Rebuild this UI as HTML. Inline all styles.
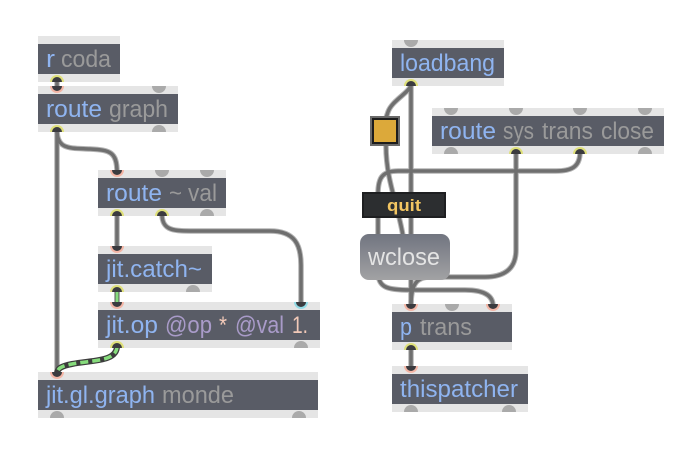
<!DOCTYPE html>
<html>
<head>
<meta charset="utf-8">
<style>
html,body{margin:0;padding:0;background:#fff;width:694px;height:458px;overflow:hidden}
svg{display:block}
text{font-family:"Liberation Sans",sans-serif;font-size:24px}
.b{fill:#8fb4f0}.g{fill:#9a9a9a}.p{fill:#a99bc9}.o{fill:#f2c9b8}
.s{fill:#e5e5e5}.d{fill:#595c66}
.w1{fill:none;stroke:#b4b4b4;stroke-width:5.5}
.w2{fill:none;stroke:#6f6f6f;stroke-width:3.5}
.pg{fill:#aaa}
.ir{fill:#f3b5a5}.or{fill:#dfe07a}.cr{fill:#93dbe6}.c{fill:#3b3b3f}
</style>
</head>
<body>
<svg width="694" height="458" viewBox="0 0 694 458" xmlns="http://www.w3.org/2000/svg">
<defs>
<linearGradient id="wg" x1="0" y1="0" x2="0" y2="1"><stop offset="0" stop-color="#717580"/><stop offset="1" stop-color="#a2a2a4"/></linearGradient>
<path id="a" d="M57 80V88"/>
<path id="b" d="M57 130V372"/>
<path id="c" d="M57 130C57 150 70 148 90 149C110 150 117 152 117 172"/>
<path id="e" d="M117 214V248"/>
<path id="f" d="M162 214C162 232 175 231 200 231L270 231C295 231 301 245 301 265L301 304"/>
<path id="h" d="M411 84C411 92 392 100 388 112L386 118"/>
<path id="i" d="M411 84V306"/>
<path id="j" d="M386 146C386 180 398 205 403 236"/>
<path id="k" d="M580 152C580 168 570 171 556 171L398 171C382 171 378 178 378 194"/>
<path id="l" d="M378 216L378 272C378 288 388 290 410 290L465 290C485 290 493 296 493 306"/>
<path id="m" d="M516 152L516 250C516 270 503 277 485 277L430 277C416 277 411 285 411 306"/>
<path id="n" d="M411 348V368"/>
</defs>

<!-- boxes -->
<rect class="s" x="38" y="36" width="82" height="46"/><rect class="d" x="38" y="44" width="82" height="30"/>
<rect class="s" x="38" y="86" width="140" height="46"/><rect class="d" x="38" y="94" width="140" height="30"/>
<rect class="s" x="98" y="170" width="128" height="46"/><rect class="d" x="98" y="178" width="128" height="30"/>
<rect class="s" x="98" y="246" width="114" height="46"/><rect class="d" x="98" y="254" width="114" height="30"/>
<rect class="s" x="98" y="302" width="222" height="46"/><rect class="d" x="98" y="310" width="222" height="30"/>
<rect class="s" x="38" y="372" width="280" height="46"/><rect class="d" x="38" y="380" width="280" height="30"/>
<rect class="s" x="392" y="40" width="112" height="46"/><rect class="d" x="392" y="48" width="112" height="30"/>
<rect class="s" x="432" y="108" width="232" height="46"/><rect class="d" x="432" y="116" width="232" height="30"/>
<rect class="s" x="392" y="304" width="120" height="46"/><rect class="d" x="392" y="312" width="120" height="30"/>
<rect class="s" x="392" y="366" width="136" height="46"/><rect class="d" x="392" y="374" width="136" height="30"/>

<!-- grey ports: half discs -->
<g class="pg">
<path d="M152 86a7 7 0 0 0 14 0z"/><path d="M152 132a7 7 0 0 1 14 0z"/>
<path d="M155 170a7 7 0 0 0 14 0z"/><path d="M200 170a7 7 0 0 0 14 0z"/><path d="M200 216a7 7 0 0 1 14 0z"/>
<path d="M186 292a7 7 0 0 1 14 0z"/>
<path d="M294 348a7 7 0 0 1 14 0z"/>
<path d="M50 418a7 7 0 0 1 14 0z"/><path d="M292 418a7 7 0 0 1 14 0z"/>
<path d="M404 40a7 7 0 0 0 14 0z"/>
<path d="M444 108a7 7 0 0 0 14 0z"/><path d="M509 108a7 7 0 0 0 14 0z"/><path d="M573 108a7 7 0 0 0 14 0z"/><path d="M638 108a7 7 0 0 0 14 0z"/>
<path d="M444 154a7 7 0 0 1 14 0z"/><path d="M638 154a7 7 0 0 1 14 0z"/>
<path d="M445 304a7 7 0 0 0 14 0z"/>
<path d="M404 412a7 7 0 0 1 14 0z"/><path d="M502 412a7 7 0 0 1 14 0z"/>
</g>

<!-- active port rings -->
<g class="or">
<path d="M50 82a7 7 0 0 1 14 0z"/><path d="M50 132a7 7 0 0 1 14 0z"/>
<path d="M110 216a7 7 0 0 1 14 0z"/><path d="M155 216a7 7 0 0 1 14 0z"/>
<path d="M110 292a7 7 0 0 1 14 0z"/><path d="M110 348a7 7 0 0 1 14 0z"/>
<path d="M404 86a7 7 0 0 1 14 0z"/>
<path d="M509 154a7 7 0 0 1 14 0z"/><path d="M573 154a7 7 0 0 1 14 0z"/>
<path d="M404 350a7 7 0 0 1 14 0z"/>
</g>
<g class="ir">
<path d="M50 86a7 7 0 0 0 14 0z"/><path d="M110 170a7 7 0 0 0 14 0z"/><path d="M110 246a7 7 0 0 0 14 0z"/>
<path d="M110 302a7 7 0 0 0 14 0z"/><path d="M50 372a7 7 0 0 0 14 0z"/>
<path d="M404 304a7 7 0 0 0 14 0z"/><path d="M486 304a7 7 0 0 0 14 0z"/><path d="M404 366a7 7 0 0 0 14 0z"/>
</g>
<path class="cr" d="M294 302a7 7 0 0 0 14 0z"/>

<!-- wires -->
<g class="w1">
<use href="#a"/><use href="#b"/><use href="#c"/><use href="#e"/><use href="#f"/><use href="#h"/><use href="#i"/><use href="#j"/><use href="#k"/><use href="#l"/><use href="#m"/><use href="#n"/>
</g>
<g class="w2">
<use href="#a"/><use href="#b"/><use href="#c"/><use href="#e"/><use href="#f"/><use href="#h"/><use href="#i"/><use href="#j"/><use href="#k"/><use href="#l"/><use href="#m"/><use href="#n"/>
</g>

<!-- signal wires -->
<path d="M117 290V304" fill="none" stroke="#555" stroke-width="5"/>
<path d="M117 290V304" fill="none" stroke="#86dc7c" stroke-width="3"/>
<path d="M117 346C117 362 92 360 72 364C62 366 57 368 57 374" fill="none" stroke="#3c3c3c" stroke-width="6"/>
<path d="M117 346C117 362 92 360 72 364C62 366 57 368 57 374" fill="none" stroke="#86dc7c" stroke-width="3.5" stroke-dasharray="8 4"/>

<!-- port centres -->
<g class="c">
<path d="M52 82a5 5 0 0 1 10 0z"/><path d="M52 86a5 5 0 0 0 10 0z"/><path d="M52 132a5 5 0 0 1 10 0z"/>
<path d="M112 170a5 5 0 0 0 10 0z"/><path d="M112 216a5 5 0 0 1 10 0z"/><path d="M157 216a5 5 0 0 1 10 0z"/>
<path d="M112 246a5 5 0 0 0 10 0z"/><path d="M112 292a5 5 0 0 1 10 0z"/>
<path d="M112 302a5 5 0 0 0 10 0z"/><path d="M296 302a5 5 0 0 0 10 0z"/><path d="M112 348a5 5 0 0 1 10 0z"/>
<path d="M52 372a5 5 0 0 0 10 0z"/>
<path d="M406 86a5 5 0 0 1 10 0z"/><path d="M511 154a5 5 0 0 1 10 0z"/><path d="M575 154a5 5 0 0 1 10 0z"/>
<path d="M406 304a5 5 0 0 0 10 0z"/><path d="M488 304a5 5 0 0 0 10 0z"/><path d="M406 350a5 5 0 0 1 10 0z"/><path d="M406 366a5 5 0 0 0 10 0z"/>
</g>

<!-- toggle -->
<rect x="370" y="116" width="30" height="30" fill="#6a6a6a"/>
<rect x="372" y="118" width="26" height="26" fill="#1c1c1c"/>
<rect x="374" y="120" width="22" height="22" fill="#dca93a"/>

<!-- quit -->
<rect x="362" y="192" width="84" height="26" fill="#1e1f21"/>
<rect x="364" y="194" width="80" height="22" fill="#2c2e30"/>
<text x="387" y="211" style="font-size:17px;font-weight:bold" fill="#f3c662" textLength="34" lengthAdjust="spacingAndGlyphs">quit</text>

<!-- wclose -->
<rect x="360" y="234" width="90" height="46" rx="9" fill="url(#wg)"/>
<text x="368" y="265" fill="#e4e4e4" textLength="72" lengthAdjust="spacingAndGlyphs">wclose</text>

<!-- labels -->
<text class="b" x="46" y="67" textLength="9" lengthAdjust="spacingAndGlyphs">r</text>
<text class="g" x="61" y="67" textLength="50" lengthAdjust="spacingAndGlyphs">coda</text>
<text class="b" x="46" y="117" textLength="56" lengthAdjust="spacingAndGlyphs">route</text>
<text class="g" x="109" y="117" textLength="59" lengthAdjust="spacingAndGlyphs">graph</text>
<text class="b" x="106" y="201" textLength="56" lengthAdjust="spacingAndGlyphs">route</text>
<text class="g" x="169" y="201" textLength="13" lengthAdjust="spacingAndGlyphs">~</text>
<text class="g" x="188" y="201" textLength="29" lengthAdjust="spacingAndGlyphs">val</text>
<text class="b" x="106" y="277" textLength="96" lengthAdjust="spacingAndGlyphs">jit.catch~</text>
<text class="b" x="106" y="333" textLength="52" lengthAdjust="spacingAndGlyphs">jit.op</text>
<text class="p" x="165" y="333" textLength="47" lengthAdjust="spacingAndGlyphs">@op</text>
<text class="o" x="219" y="333" textLength="8" lengthAdjust="spacingAndGlyphs">*</text>
<text class="p" x="235" y="333" textLength="49" lengthAdjust="spacingAndGlyphs">@val</text>
<text class="o" x="292" y="333" textLength="16" lengthAdjust="spacingAndGlyphs">1.</text>
<text class="b" x="46" y="403" textLength="109" lengthAdjust="spacingAndGlyphs">jit.gl.graph</text>
<text class="g" x="162" y="403" textLength="72" lengthAdjust="spacingAndGlyphs">monde</text>
<text class="b" x="400" y="71" textLength="95" lengthAdjust="spacingAndGlyphs">loadbang</text>
<text class="b" x="440" y="139" textLength="56" lengthAdjust="spacingAndGlyphs">route</text>
<text class="g" x="503" y="139" textLength="31" lengthAdjust="spacingAndGlyphs">sys</text>
<text class="g" x="542" y="139" textLength="51" lengthAdjust="spacingAndGlyphs">trans</text>
<text class="g" x="601" y="139" textLength="53" lengthAdjust="spacingAndGlyphs">close</text>
<text class="b" x="400" y="335" textLength="12" lengthAdjust="spacingAndGlyphs">p</text>
<text class="g" x="420" y="335" textLength="52" lengthAdjust="spacingAndGlyphs">trans</text>
<text class="b" x="400" y="397" textLength="118" lengthAdjust="spacingAndGlyphs">thispatcher</text>
</svg>
</body>
</html>
